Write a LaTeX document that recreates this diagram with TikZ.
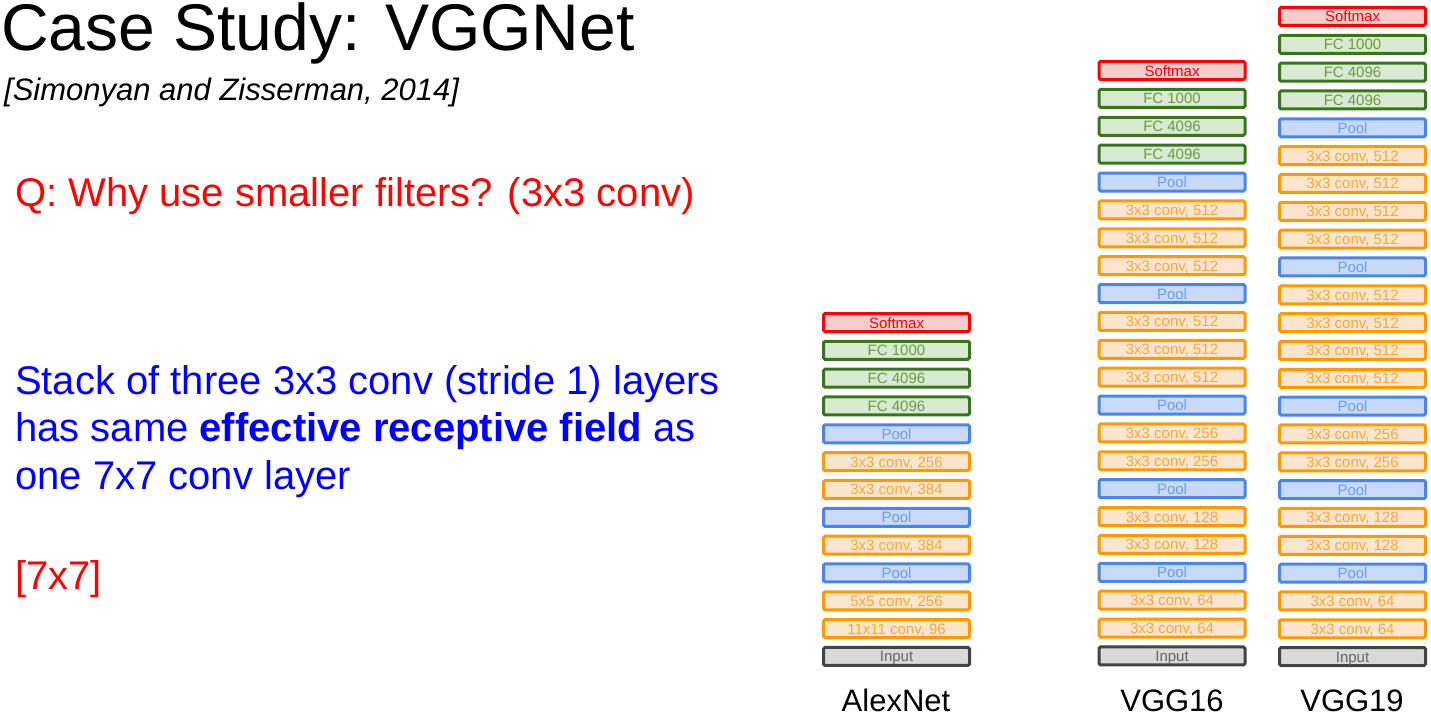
\documentclass[tikz,border=0pt]{standalone}
\usepackage{fontspec}
\setmainfont{Liberation Sans}
\definecolor{smfill}{HTML}{F4CCCC}\definecolor{smdraw}{HTML}{FF0000}
\definecolor{fcfill}{HTML}{D9EAD3}\definecolor{fcdraw}{HTML}{38761D}\definecolor{fctext}{HTML}{6A9A45}
\definecolor{plfill}{HTML}{C9DAF8}\definecolor{pldraw}{HTML}{4A86E8}\definecolor{pltext}{HTML}{6D9EEB}
\definecolor{cvfill}{HTML}{FCE5CD}\definecolor{cvdraw}{HTML}{FF9900}\definecolor{cvtext}{HTML}{F9A83A}
\definecolor{ipfill}{HTML}{D9D9D9}\definecolor{ipdraw}{HTML}{434343}\definecolor{iptext}{HTML}{666666}
\definecolor{myblue}{HTML}{0000FF}\definecolor{myred}{HTML}{FF0000}
\tikzset{
  layer/.style={rectangle, rounded corners=1.5pt, line width=3pt, minimum width=146pt, minimum height=18pt, inner sep=0pt, text depth=0pt, text height=11pt, font=\fontsize{15}{15}\selectfont},
  boxsm/.style={layer, fill=smfill, draw=smdraw, text=smdraw},
  boxfc/.style={layer, fill=fcfill, draw=fcdraw, text=fctext},
  boxpool/.style={layer, fill=plfill, draw=pldraw, text=pltext},
  boxconv/.style={layer, fill=cvfill, draw=cvdraw, text=cvtext},
  boxinput/.style={layer, fill=ipfill, draw=ipdraw, text=iptext},
  txt/.style={anchor=base west, inner sep=0pt},
  netlabel/.style={anchor=base, inner sep=0pt, font=\fontsize{31}{31}\selectfont}
}
\begin{document}
\begin{tikzpicture}[x=1pt,y=-1pt]
\path[use as bounding box] (0,0) rectangle (1431,717);
\node[txt, font=\fontsize{66}{70}\selectfont] (title) at (1,51) {Case Study: VGGNet};
\node[txt, font=\fontsize{31}{34}\selectfont\itshape] (cite) at (4,100) {[Simonyan and Zisserman, 2014]};
\node[txt, text=myred, font=\fontsize{40}{44}\selectfont] (q) at (15,206) {Q: Why use smaller filters? (3x3 conv)};
\node[txt, text=myblue, font=\fontsize{40}{44}\selectfont] (l1) at (15,394) {Stack of three 3x3 conv (stride 1) layers};
\node[txt, text=myblue, font=\fontsize{40}{44}\selectfont] (l2) at (15,441) {has same \textbf{effective receptive field} as};
\node[txt, text=myblue, font=\fontsize{40}{44}\selectfont] (l3) at (15,489) {one 7x7 conv layer};
\node[txt, text=myred, font=\fontsize{40}{44}\selectfont] (ans) at (15,589) {[7x7]};
% AlexNet
\foreach \s/\t [count=\i] in {boxsm/Softmax, boxfc/FC 1000, boxfc/FC 4096, boxfc/FC 4096, boxpool/Pool, boxconv/{3x3 conv, 256}, boxconv/{3x3 conv, 384}, boxpool/Pool, boxconv/{3x3 conv, 384}, boxpool/Pool, boxconv/{5x5 conv, 256}, boxconv/{11x11 conv, 96}, boxinput/Input}
  \node[\s] (a\i) at (896.5, {322.5+(\i-1)*27.83}) {\t};
% VGG16
\foreach \s/\t [count=\i] in {boxsm/Softmax, boxfc/FC 1000, boxfc/FC 4096, boxfc/FC 4096, boxpool/Pool, boxconv/{3x3 conv, 512}, boxconv/{3x3 conv, 512}, boxconv/{3x3 conv, 512}, boxpool/Pool, boxconv/{3x3 conv, 512}, boxconv/{3x3 conv, 512}, boxconv/{3x3 conv, 512}, boxpool/Pool, boxconv/{3x3 conv, 256}, boxconv/{3x3 conv, 256}, boxpool/Pool, boxconv/{3x3 conv, 128}, boxconv/{3x3 conv, 128}, boxpool/Pool, boxconv/{3x3 conv, 64}, boxconv/{3x3 conv, 64}, boxinput/Input}
  \node[\s] (b\i) at (1172, {70.5+(\i-1)*27.88}) {\t};
% VGG19
\foreach \s/\t [count=\i] in {boxsm/Softmax, boxfc/FC 1000, boxfc/FC 4096, boxfc/FC 4096, boxpool/Pool, boxconv/{3x3 conv, 512}, boxconv/{3x3 conv, 512}, boxconv/{3x3 conv, 512}, boxconv/{3x3 conv, 512}, boxpool/Pool, boxconv/{3x3 conv, 512}, boxconv/{3x3 conv, 512}, boxconv/{3x3 conv, 512}, boxconv/{3x3 conv, 512}, boxpool/Pool, boxconv/{3x3 conv, 256}, boxconv/{3x3 conv, 256}, boxpool/Pool, boxconv/{3x3 conv, 128}, boxconv/{3x3 conv, 128}, boxpool/Pool, boxconv/{3x3 conv, 64}, boxconv/{3x3 conv, 64}, boxinput/Input}
  \node[\s] (c\i) at (1352.5, {16.5+(\i-1)*27.83}) {\t};
\node[netlabel] (alexlabel) at (896,711) {AlexNet};
\node[netlabel] (v16label) at (1172,711) {VGG16};
\node[netlabel] (v19label) at (1352,711) {VGG19};
\end{tikzpicture}
\end{document}
